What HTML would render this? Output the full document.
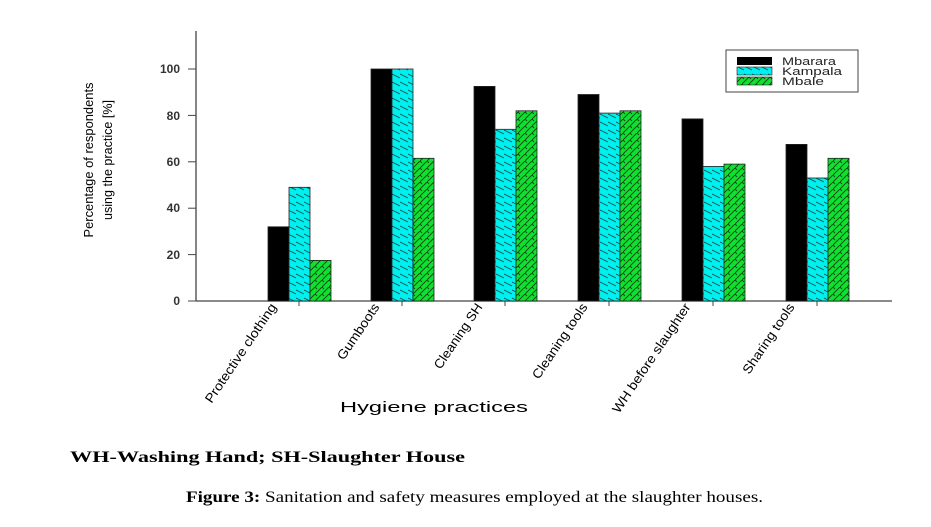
<!DOCTYPE html>
<html><head><meta charset="utf-8"><style>html,body{margin:0;padding:0;background:#fff}svg{display:block}</style></head>
<body>
<svg width="931" height="527" viewBox="0 0 931 527" xmlns="http://www.w3.org/2000/svg">
<defs>
<pattern id="cy" width="8" height="8" patternUnits="userSpaceOnUse">
<rect width="8" height="8" fill="#00f0f0"/>
<path d="M0,2 L8,6" stroke="#1a4a4a" stroke-width="0.8"/>
</pattern>
<pattern id="gr" width="7" height="7" patternUnits="userSpaceOnUse">
<rect width="7" height="7" fill="#10e030"/>
<path d="M0,7 L7,0 M0,0 L2,2" stroke="#0a4010" stroke-width="0.9"/>
</pattern>
</defs>
<g font-family="Liberation Sans, sans-serif" fill="#000">
<line x1="196" y1="31" x2="196" y2="301" stroke="#444" stroke-width="1.3"/>
<line x1="196" y1="301" x2="892" y2="301" stroke="#444" stroke-width="1.3"/>
<g stroke="#444" stroke-width="1">
<line x1="188" y1="301" x2="196" y2="301"/><line x1="188" y1="254.6" x2="196" y2="254.6"/>
<line x1="188" y1="208.2" x2="196" y2="208.2"/><line x1="188" y1="161.8" x2="196" y2="161.8"/>
<line x1="188" y1="115.4" x2="196" y2="115.4"/><line x1="188" y1="69" x2="196" y2="69"/>
<line x1="299" y1="301" x2="299" y2="306"/><line x1="402" y1="301" x2="402" y2="306"/>
<line x1="505" y1="301" x2="505" y2="306"/><line x1="609" y1="301" x2="609" y2="306"/>
<line x1="713" y1="301" x2="713" y2="306"/><line x1="817" y1="301" x2="817" y2="306"/>
</g>
<g font-size="12" text-anchor="end" font-weight="bold" fill="#333">
<text x="180" y="305">0</text><text x="180" y="259">20</text><text x="180" y="212">40</text>
<text x="180" y="166">60</text><text x="180" y="120">80</text><text x="180" y="73">100</text>
</g>
<g font-size="13" text-anchor="middle">
<text transform="translate(93,160) rotate(-90)" textLength="155" lengthAdjust="spacingAndGlyphs">Percentage of respondents</text>
<text transform="translate(112,160) rotate(-90)" textLength="120" lengthAdjust="spacingAndGlyphs">using the practice [%]</text>
</g>
<g stroke="#222" stroke-width="0.8">
<rect x="268" y="226.8" width="21" height="74.2" fill="#000"/>
<rect x="289" y="187.3" width="21" height="113.7" fill="url(#cy)"/>
<rect x="310" y="260.4" width="21" height="40.6" fill="url(#gr)"/>
<rect x="371" y="69" width="21" height="232" fill="#000"/>
<rect x="392" y="69" width="21" height="232" fill="url(#cy)"/>
<rect x="413" y="158.3" width="21" height="142.7" fill="url(#gr)"/>
<rect x="474" y="86.4" width="21" height="214.6" fill="#000"/>
<rect x="495" y="129.3" width="21" height="171.7" fill="url(#cy)"/>
<rect x="516" y="110.8" width="21" height="190.2" fill="url(#gr)"/>
<rect x="578" y="94.5" width="21" height="206.5" fill="#000"/>
<rect x="599" y="113.1" width="21" height="187.9" fill="url(#cy)"/>
<rect x="620" y="110.8" width="21" height="190.2" fill="url(#gr)"/>
<rect x="682" y="118.9" width="21" height="182.1" fill="#000"/>
<rect x="703" y="166.4" width="21" height="134.6" fill="url(#cy)"/>
<rect x="724" y="164.1" width="21" height="136.9" fill="url(#gr)"/>
<rect x="786" y="144.4" width="21" height="156.6" fill="#000"/>
<rect x="807" y="178" width="21" height="123" fill="url(#cy)"/>
<rect x="828" y="158.3" width="21" height="142.7" fill="url(#gr)"/>
</g>
<rect x="726" y="50" width="132" height="42" fill="#fff" stroke="#444" stroke-width="1"/>
<rect x="737" y="57" width="35" height="8" fill="#000"/>
<rect x="737" y="67" width="35" height="8" fill="url(#cy)" stroke="#222" stroke-width="0.6"/>
<rect x="737" y="77" width="35" height="8" fill="url(#gr)" stroke="#222" stroke-width="0.6"/>
<g font-size="11" fill="#222">
<text x="782" y="65" textLength="54" lengthAdjust="spacingAndGlyphs">Mbarara</text>
<text x="782" y="75" textLength="60" lengthAdjust="spacingAndGlyphs">Kampala</text>
<text x="782" y="85" textLength="42" lengthAdjust="spacingAndGlyphs">Mbale</text>
</g>
<g font-size="13" text-anchor="end">
<text transform="translate(277,307) rotate(-56)" textLength="117" lengthAdjust="spacingAndGlyphs">Protective clothing</text>
<text transform="translate(380,307) rotate(-56)" textLength="65" lengthAdjust="spacingAndGlyphs">Gumboots</text>
<text transform="translate(483,307) rotate(-56)" textLength="76" lengthAdjust="spacingAndGlyphs">Cleaning SH</text>
<text transform="translate(588,307) rotate(-56)" textLength="88" lengthAdjust="spacingAndGlyphs">Cleaning tools</text>
<text transform="translate(691,307) rotate(-56)" textLength="129" lengthAdjust="spacingAndGlyphs">WH before slaughter</text>
<text transform="translate(795,307) rotate(-56)" textLength="82" lengthAdjust="spacingAndGlyphs">Sharing tools</text>
</g>
<text x="340" y="412" font-size="15" textLength="188" lengthAdjust="spacingAndGlyphs">Hygiene practices</text>
</g>
<g font-family="Liberation Serif, serif" fill="#000">
<text x="70" y="462" font-size="16" font-weight="bold" textLength="395" lengthAdjust="spacingAndGlyphs">WH-Washing Hand; SH-Slaughter House</text>
<text x="186" y="502" font-size="16" textLength="577" lengthAdjust="spacingAndGlyphs"><tspan font-weight="bold">Figure 3:</tspan> Sanitation and safety measures employed at the slaughter houses.</text>
</g>
</svg>
</body></html>
